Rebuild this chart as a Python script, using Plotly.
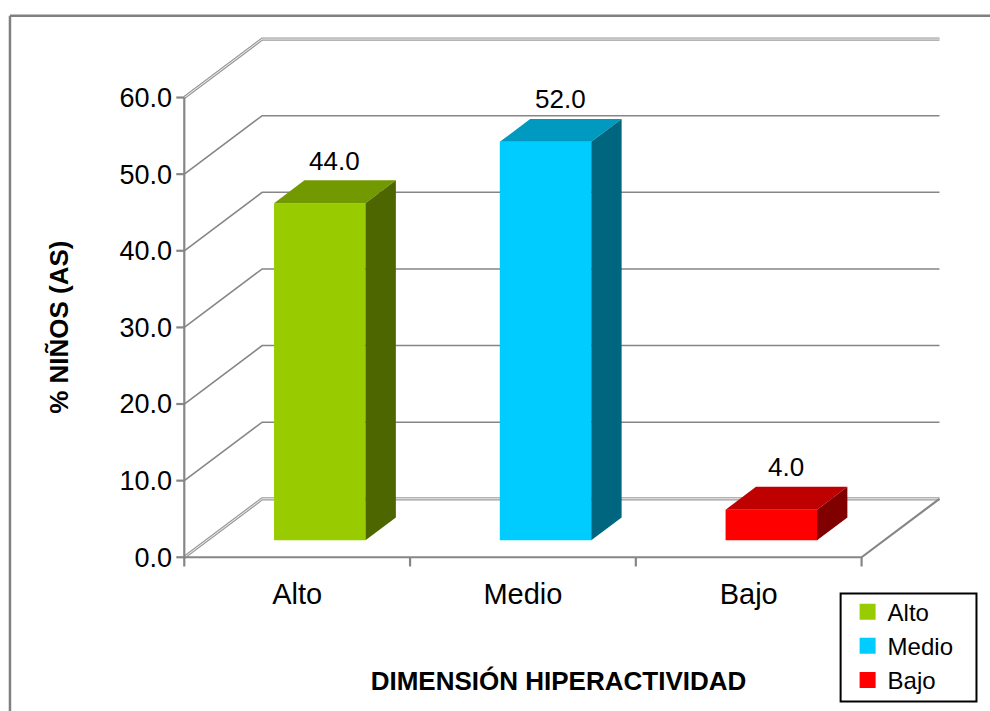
import plotly.graph_objects as go

# ---- data -------------------------------------------------------------
categories = ["Alto", "Medio", "Bajo"]
values = [44.0, 52.0, 4.0]
front_colors = ["#99CC00", "#00CCFF", "#FF0000"]
top_colors = ["#739900", "#0099BF", "#BF0000"]
side_colors = ["#4D6600", "#006680", "#800000"]
y_ticks = [0, 10, 20, 30, 40, 50, 60]

# ---- pseudo-3D geometry ----------------------------------------------
W, H = 990, 711
PX_Y = 460 / 60        # pixels per percentage point
PX_X = 226             # pixels per category slot
DEPTH_X = 0.345        # wall depth in category units
DEPTH_Y = 7.63         # wall depth in percentage units
BAR_W = 0.405          # bar width as a fraction of the slot
BAR_FRONT = 0.29       # depth fraction where the bar front face sits
BAR_DEPTH = 0.39       # bar depth as a fraction of wall depth
N = len(categories)

X_MIN, X_MAX = -0.05, N + DEPTH_X + 0.02
Y_MIN, Y_MAX = -1.4, y_ticks[-1] + DEPTH_Y + 0.4

AXIS_X_PX = 184.0      # page x of the front vertical axis
ZERO_Y_PX = 557.7      # page y of the value 0 on the front plane

plot_w = (X_MAX - X_MIN) * PX_X
plot_h = (Y_MAX - Y_MIN) * PX_Y
L = AXIS_X_PX - (0 - X_MIN) * PX_X
R = W - L - plot_w
bottom_px = ZERO_Y_PX + (0 - Y_MIN) * PX_Y
B = H - bottom_px
T = H - B - plot_h


def px_to_paper_x(px):
    return (px - L) / plot_w


def px_to_paper_y(py):
    return (bottom_px - py) / plot_h


GRID = "#868686"
fig = go.Figure()

# back wall gridlines and left wall diagonals
gx, gy = [], []
for v in y_ticks:
    if v in (y_ticks[0], y_ticks[-1]):
        continue
    gx += [0, DEPTH_X, N + DEPTH_X, None]
    gy += [v, v + DEPTH_Y, v + DEPTH_Y, None]
fig.add_trace(go.Scatter(x=gx, y=gy, mode="lines", line=dict(color=GRID, width=1.6),
                         hoverinfo="skip", showlegend=False))

# outer edges (floor back edge and top edge) drawn as double lines
ex, ey = [], []
for v in (y_ticks[0], y_ticks[-1]):
    ex += [0, DEPTH_X, N + DEPTH_X, None]
    ey += [v, v + DEPTH_Y, v + DEPTH_Y, None]
fig.add_trace(go.Scatter(x=ex, y=ey, mode="lines", line=dict(color="#9a9a9a", width=3.2),
                         hoverinfo="skip", showlegend=False))
fig.add_trace(go.Scatter(x=ex, y=ey, mode="lines", line=dict(color="#f2f2f2", width=1.0),
                         hoverinfo="skip", showlegend=False))

# floor front and right edges
fig.add_trace(go.Scatter(x=[0, N, N + DEPTH_X], y=[0, 0, DEPTH_Y], mode="lines",
                         line=dict(color=GRID, width=2.2), hoverinfo="skip", showlegend=False))

# front value axis with tick marks
tick_len = 8 / PX_X
ax_x = [0, 0, None]
ax_y = [-1.2, y_ticks[-1], None]
for v in y_ticks:
    ax_x += [-tick_len, 0, None]
    ax_y += [v, v, None]
# category separator ticks below the floor
for i in range(1, N + 1):
    ax_x += [i, i, None]
    ax_y += [0, -1.2, None]
fig.add_trace(go.Scatter(x=ax_x, y=ax_y, mode="lines", line=dict(color=GRID, width=2.2),
                         hoverinfo="skip", showlegend=False))

# bars as extruded boxes
fx0, fy0 = BAR_FRONT * DEPTH_X, BAR_FRONT * DEPTH_Y
bx0, by0 = (BAR_FRONT + BAR_DEPTH) * DEPTH_X, (BAR_FRONT + BAR_DEPTH) * DEPTH_Y
for i, (cat, v) in enumerate(zip(categories, values)):
    x0 = i + 0.5 - BAR_W / 2
    x1 = i + 0.5 + BAR_W / 2
    # front face
    fig.add_trace(go.Scatter(
        x=[x0 + fx0, x1 + fx0, x1 + fx0, x0 + fx0, x0 + fx0],
        y=[fy0, fy0, v + fy0, v + fy0, fy0],
        fill="toself", fillcolor=front_colors[i], mode="lines", line=dict(width=0),
        hoverinfo="skip", showlegend=False))
    # top face
    fig.add_trace(go.Scatter(
        x=[x0 + fx0, x1 + fx0, x1 + bx0, x0 + bx0, x0 + fx0],
        y=[v + fy0, v + fy0, v + by0, v + by0, v + fy0],
        fill="toself", fillcolor=top_colors[i], mode="lines", line=dict(width=0),
        hoverinfo="skip", showlegend=False))
    # side face
    fig.add_trace(go.Scatter(
        x=[x1 + fx0, x1 + bx0, x1 + bx0, x1 + fx0, x1 + fx0],
        y=[fy0, by0, v + by0, v + fy0, fy0],
        fill="toself", fillcolor=side_colors[i], mode="lines", line=dict(width=0),
        hoverinfo="skip", showlegend=False))
    # value label above the bar
    mid = BAR_FRONT + BAR_DEPTH / 2
    fig.add_annotation(x=i + 0.5 + mid * DEPTH_X, y=v + mid * DEPTH_Y,
                       text=f"{v:.1f}", showarrow=False, yanchor="bottom", yshift=14,
                       font=dict(size=26, color="black"))

# legend entries
for cat, col in zip(categories, front_colors):
    fig.add_trace(go.Scatter(x=[None], y=[None], mode="markers", name=cat,
                             marker=dict(symbol="square", size=16, color=col)))

# y axis title centred on the value range
fig.add_annotation(xref="paper", yref="y", x=px_to_paper_x(59), y=y_ticks[-1] / 2,
                   xanchor="center", yanchor="middle",
                   text="<b>% NIÑOS (AS)</b>", textangle=-90, showarrow=False,
                   font=dict(size=26, color="black"))

# chart frame
fig.add_shape(type="line", xref="paper", yref="paper",
              x0=px_to_paper_x(9.5), y0=px_to_paper_y(16), x1=px_to_paper_x(992), y1=px_to_paper_y(16),
              line=dict(color="#808080", width=2.5))
fig.add_shape(type="line", xref="paper", yref="paper",
              x0=px_to_paper_x(9.5), y0=px_to_paper_y(16), x1=px_to_paper_x(9.5), y1=px_to_paper_y(715),
              line=dict(color="#808080", width=2.5))

# legend frame
fig.add_shape(type="rect", xref="paper", yref="paper",
              x0=px_to_paper_x(841), y0=px_to_paper_y(594), x1=px_to_paper_x(977), y1=px_to_paper_y(702),
              line=dict(color="black", width=2), fillcolor="white", layer="below")

fig.update_layout(
    width=W, height=H,
    margin=dict(l=L, r=R, t=T, b=B, autoexpand=False),
    paper_bgcolor="white", plot_bgcolor="rgba(0,0,0,0)",
    font=dict(family="Liberation Sans, Arial, sans-serif", color="black"),
    xaxis=dict(range=[X_MIN, X_MAX], tickvals=[i + 0.5 for i in range(N)], ticktext=categories,
               ticks="", showgrid=False, zeroline=False, showline=False,
               tickfont=dict(size=29), ticklabelstandoff=6,
               title=dict(text="<b>DIMENSIÓN HIPERACTIVIDAD</b>", font=dict(size=26), standoff=62)),
    yaxis=dict(range=[Y_MIN, Y_MAX], tickvals=y_ticks, ticktext=[f"{v:.1f}" for v in y_ticks],
               ticks="", showgrid=False, zeroline=False, showline=False,
               tickfont=dict(size=27)),
    legend=dict(x=px_to_paper_x(848), y=px_to_paper_y(590), xanchor="left", yanchor="top",
                bgcolor="rgba(0,0,0,0)", borderwidth=0,
                font=dict(size=24), traceorder="normal"),
    showlegend=True,
)

fig.write_html("out.html")
